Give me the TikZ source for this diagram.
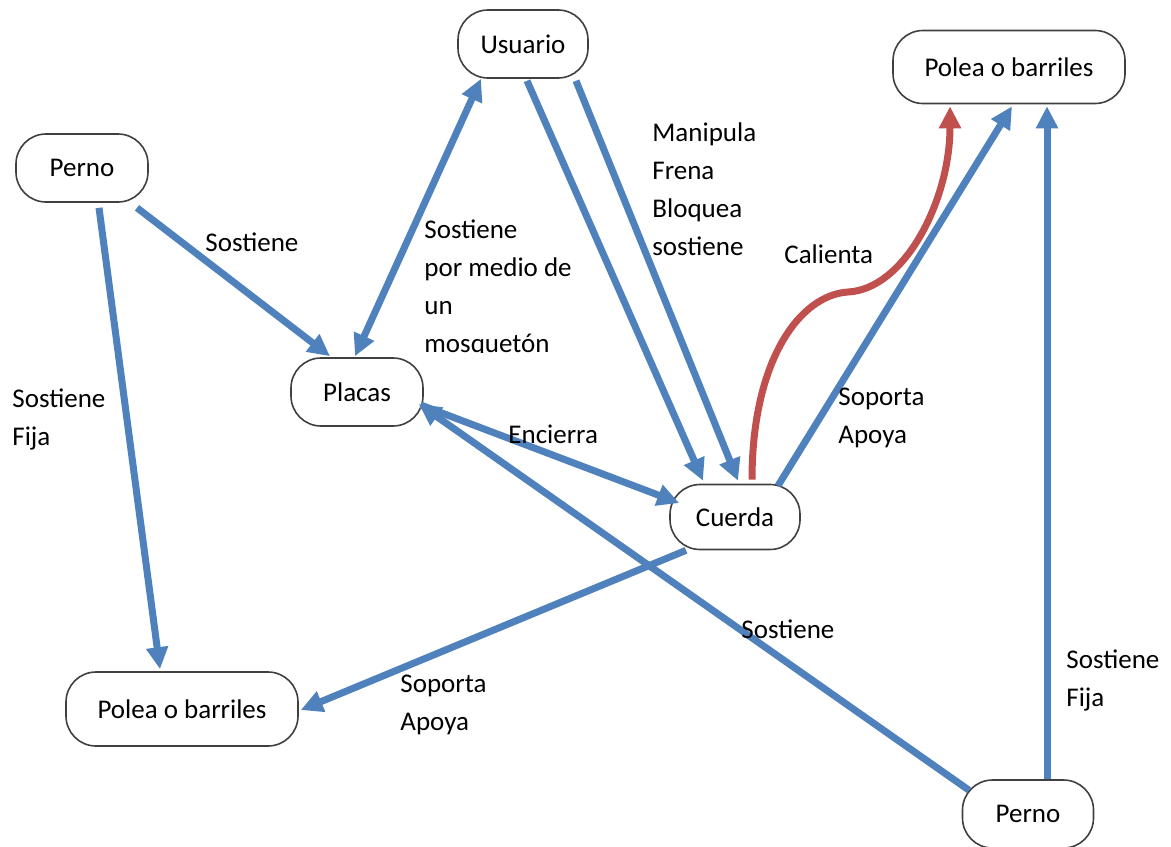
\documentclass[tikz,border=0pt]{standalone}
\usepackage{fontspec}
\setmainfont{Carlito}
\usetikzlibrary{arrows.meta,calc}
\definecolor{linkblue}{HTML}{4F81BD}
\definecolor{linkred}{HTML}{C0504D}
\begin{document}
\begin{tikzpicture}[x=0.5pt,y=-0.5pt,
  txt/.style={font=\fontsize{13.5}{19}\selectfont},
  concept/.style={txt, draw=black!75, line width=0.8pt, rounded corners=15pt,
    fill=white, minimum width=#1, minimum height=34pt, inner sep=0pt},
  concept/.default=65pt,
  link/.style={line width=3.5pt, draw=linkblue, -{Triangle[length=11pt,width=10.5pt]}},
  twoway/.style={line width=3.5pt, draw=linkblue, {Triangle[length=11pt,width=10.5pt]}-{Triangle[length=11pt,width=10.5pt]}},
  heat/.style={line width=3.5pt, draw=linkred, -{Triangle[length=11pt,width=10.5pt]}},
  lbl/.style={txt, anchor=north west, inner sep=0pt, align=left}
]
\useasboundingbox (0,0) rectangle (1171,846);
\clip (0,0) rectangle (1171,846);

% concepts
\node[concept=65pt]   (usuario) at (523,44)   {Usuario};
\node[concept=116pt, minimum height=36.5pt] (poleaTR) at (1009,67) {Polea o barriles};
\node[concept=66pt]   (pernoTL) at (82,168)   {Perno};
\node[concept=66pt]   (placas)  at (357,392)  {Placas};
\node[concept=65pt, minimum height=32.5pt] (cuerda) at (735,517) {Cuerda};
\node[concept=116pt, minimum height=37pt] (poleaBL) at (182,709) {Polea o barriles};
\node[concept=65.5pt] (pernoBR) at (1028,814) {Perno};

% relations
\draw[link] ($(pernoTL.south)+(55,5)$) -- ($(placas.north)+(-27,-1)$);
\draw[link] ($(pernoTL.south)+(17,5)$) -- ($(poleaBL.north)+(-22,-2)$);
\draw[twoway] ($(usuario.south)+(-42,0)$) -- ($(placas.north)+(-2,-1)$);
\draw[link] ($(usuario.south)+(4,2)$) -- ($(cuerda.north)+(-32,-3)$);
\draw[link] ($(usuario.south)+(53,2)$) -- ($(cuerda.north)+(3,-3)$);
\draw[link] ($(placas.east)+(-3,13)$) -- ($(cuerda.west)+(10,-14)$);
\draw[link] ($(pernoBR.north)+(-59,11)$) -- ($(placas.east)+(-5,12)$);
\draw[link] ($(pernoBR.north)+(19,0)$) -- ($(poleaTR.south)+(38,2)$);
\draw[link] ($(cuerda.north)+(43,2)$) -- ($(poleaTR.south)+(3,2)$);
\draw[link] ($(cuerda.south)+(-49,0)$) -- ($(poleaBL.east)+(2,1)$);
\draw[heat] ($(cuerda.north)+(17,-4)$)
  .. controls (752,360) and (800,295) .. (848,292)
  .. controls (905,289) and (950,200) .. ($(poleaTR.south)+(-59,2)$);

% relation labels
\node[lbl] (tSostieneA) at (205,232) {Sostiene};
\node[lbl] (tSostieneB) at (12,388) {Sostiene\\Fija};
\begin{scope}
  \clip (400,200) rectangle (620,352);
  \node[lbl] (tMosqueton) at (424,219) {Sostiene\\por medio de\\un\\mosquetón};
\end{scope}
\node[lbl] (tManipula) at (652,122) {Manipula\\Frena\\Bloquea\\sostiene};
\node[lbl] (tCalienta) at (784,244) {Calienta};
\node[lbl] (tEncierra) at (508,425) {Encierra};
\node[lbl] (tSoportaA) at (838,388) {Soporta\\Apoya};
\node[lbl] (tSostieneC) at (741,619) {Sostiene};
\node[lbl] (tSostieneD) at (1066,649) {Sostiene\\Fija};
\node[lbl] (tSoportaB) at (400,675) {Soporta\\Apoya};
\end{tikzpicture}
\end{document}
